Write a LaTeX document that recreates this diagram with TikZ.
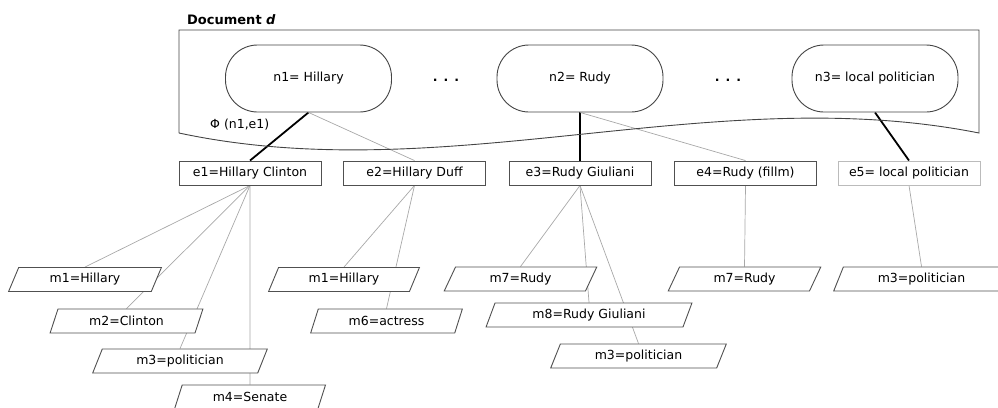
\documentclass[tikz,border=0pt]{standalone}
\usepackage{fontspec}
\setmainfont{DejaVu Sans}
\usetikzlibrary{shapes.geometric,backgrounds}

\definecolor{frameline}{HTML}{444444}
\definecolor{boxline}{HTML}{505050}
\definecolor{paleline}{HTML}{BBBBBB}
\definecolor{softgray}{HTML}{A8A8A8}

\tikzset{
  txt/.style={font=\fontsize{12.5}{15}\selectfont, inner sep=0pt},
  docframe/.style={draw=frameline, line width=0.9pt},
  namebox/.style={txt, draw=frameline, fill=white, line width=0.9pt,
    rounded corners=32pt, minimum width=166pt, minimum height=67pt},
  entitybox/.style={txt, draw=boxline, fill=white, line width=0.9pt,
    minimum width=142pt, minimum height=24pt},
  mentionbox/.style={txt, draw=boxline, fill=white, line width=0.9pt,
    trapezium, trapezium left angle=66, trapezium right angle=114,
    trapezium stretches=true, minimum height=24pt},
  hardlink/.style={draw=black, line width=1.8pt},
  softlink/.style={draw=softgray, line width=0.7pt},
  ellipsis/.style={txt, font=\fontsize{12.5}{15}\selectfont\bfseries},
}

\begin{document}
\begin{tikzpicture}[x=1pt,y=-1pt]
\useasboundingbox (0,0) rectangle (998,407);
\clip (0,0) rectangle (998,407);

% document frame with a wavy lower edge
\draw[docframe] (179,133) -- (179,30) -- (979,30) -- (979,133)
  .. controls (712,80) and (446,190) .. (179,133);
\node[txt, anchor=west, font=\fontsize{13}{15}\selectfont\bfseries] (title) at (187,20) {Document \textit{d}};

% names found in the document
\node[namebox] (n1) at (308.5,78.5) {n1= Hillary};
\node[namebox] (n2) at (580,78.5) {n2= Rudy};
\node[namebox] (n3) at (875,78.5) {n3= local politician};
\node[ellipsis] (dotsA) at (446,80) {.\hspace{6pt}.\hspace{6pt}.};
\node[ellipsis] (dotsB) at (728,80) {.\hspace{6pt}.\hspace{6pt}.};
\node[txt, anchor=west] (phi) at (210,125) {Φ (n1,e1)};

% candidate entities
\node[entitybox] (e1) at (250,173) {e1=Hillary Clinton};
\node[entitybox] (e2) at (414.5,173) {e2=Hillary Duff};
\node[entitybox] (e3) at (580,173) {e3=Rudy Giuliani};
\node[entitybox] (e4) at (745.5,173) {e4=Rudy (fillm)};
\node[entitybox, draw=paleline] (e5) at (909,173) {e5= local politician};

% mentions of each entity
\node[mentionbox, minimum width=154pt] (m1a) at (85,279.5) {m1=Hillary};
\node[mentionbox, minimum width=153pt] (m2a) at (126.5,321) {m2=Clinton};
\node[mentionbox, minimum width=176pt] (m3a) at (180,361) {m3=politician};
\node[mentionbox, minimum width=152pt] (m4a) at (250,397) {m4=Senate};

\node[mentionbox, minimum width=152pt] (m1b) at (344,279.5) {m1=Hillary};
\node[mentionbox, minimum width=153pt] (m6b) at (386.5,321) {m6=actress};

\node[mentionbox, minimum width=153pt] (m7c) at (520.5,279) {m7=Rudy};
\node[mentionbox, minimum width=206pt] (m8c) at (589,315) {m8=Rudy Giuliani};
\node[mentionbox, minimum width=177pt] (m3c) at (638.5,356) {m3=politician};

\node[mentionbox, minimum width=153pt] (m7d) at (744.5,279) {m7=Rudy};
\node[mentionbox, minimum width=177pt] (m3e) at (921.5,279) {m3=politician};

% links, kept behind the boxes
\begin{pgfonlayer}{background}
  \draw[hardlink] (n1.south) -- (e1.north);
  \draw[softlink] (n1.south) -- (e2.north);
  \draw[hardlink] (n2.south) -- (e3.north);
  \draw[softlink] (n2.south) -- (e4.north);
  \draw[hardlink] (n3.south) -- (e5.north);

  \draw[softlink] (e1.south) -- (m1a.north);
  \draw[softlink] (e1.south) -- (m2a.north);
  \draw[softlink] (e1.south) -- (m3a.north);
  \draw[softlink] (e1.south) -- (m4a.north);

  \draw[softlink] (e2.south) -- (m1b.north);
  \draw[softlink] (e2.south) -- (m6b.north);

  \draw[softlink] (e3.south) -- (m7c.north);
  \draw[softlink] (e3.south) -- (m8c.north);
  \draw[softlink] (e3.south) -- (m3c.north);

  \draw[softlink] (e4.south) -- (m7d.north);
  \draw[softlink] (e5.south) -- (m3e.north);
\end{pgfonlayer}
\end{tikzpicture}
\end{document}
